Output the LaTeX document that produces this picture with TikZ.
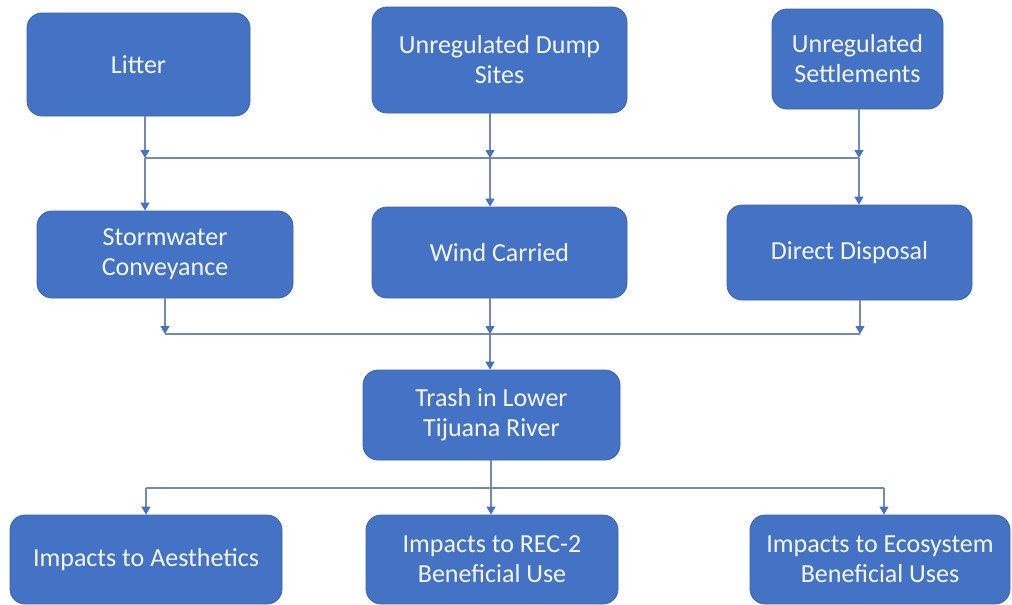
\documentclass[tikz,border=0pt]{standalone}
\usepackage{fontspec}
\setmainfont{Carlito}
\usetikzlibrary{arrows.meta}
\definecolor{boxfill}{HTML}{4472C4}
\definecolor{boxline}{HTML}{3A64AE}
\definecolor{connline}{HTML}{7489B4}
\definecolor{tipcol}{HTML}{4472C4}
\definecolor{txt}{HTML}{F4F6FA}
\begin{document}
\begin{tikzpicture}[x=1pt,y=-1pt,
  blk/.style={draw=boxline,line width=0.8pt,fill=boxfill,rounded corners=15pt,
    text=txt,align=center,inner sep=0pt,
    font=\fontsize{26}{30}\selectfont},
  conn/.style={draw=connline,line width=1.1pt,-{Triangle[length=8pt,width=9pt,color=tipcol]}},
  plain/.style={draw=connline,line width=1.1pt}]
\useasboundingbox[fill=white] (0,0) rectangle (1012,605);
% top row
\node[blk,minimum width=223pt,minimum height=103pt] (litter) at (138.5,64.5) {Litter};
\node[blk,minimum width=255pt,minimum height=106pt] (dump) at (499.5,60) {Unregulated Dump\\Sites};
\node[blk,minimum width=171pt,minimum height=100pt] (settle) at (857.5,59) {Unregulated\\Settlements};
% middle row
\node[blk,minimum width=256pt,minimum height=87pt] (storm) at (165,254.5) {Stormwater\\Conveyance};
\node[blk,minimum width=255pt,minimum height=91pt] (wind) at (499.5,252.5) {Wind Carried};
\node[blk,minimum width=245pt,minimum height=95pt] (direct) at (849.5,252.5) {Direct Disposal};
% trash
\node[blk,minimum width=257pt,minimum height=90pt] (trash) at (491.5,415) {Trash in Lower\\Tijuana River};
% bottom row
\node[blk,minimum width=272pt,minimum height=89pt] (aes) at (146,559.5) {Impacts to Aesthetics};
\node[blk,minimum width=252pt,minimum height=89pt] (rec) at (492,559.5) {Impacts to REC-2\\Beneficial Use};
\node[blk,minimum width=260pt,minimum height=89pt] (eco) at (880,559.5) {Impacts to Ecosystem\\Beneficial Uses};
% junction coordinates
\coordinate (ja) at (145,158);
\coordinate (jb) at (490,158);
\coordinate (jc) at (859,158);
\coordinate (ka) at (165,334);
\coordinate (kb) at (490,334);
\coordinate (kc) at (860,334);
\coordinate (ma) at (146,488);
\coordinate (mb) at (491,488);
\coordinate (mc) at (884,488);
% first bus
\draw[plain] (ja) -- (jc);
\draw[conn] (litter.south -| ja) -- (ja);
\draw[conn] (dump.south -| jb) -- (jb);
\draw[conn] (settle.south -| jc) -- (jc);
\draw[conn] (ja) -- (storm.north -| ja);
\draw[conn] (jb) -- (wind.north -| jb);
\draw[conn] (jc) -- (direct.north -| jc);
% second bus
\draw[plain] (ka) -- (kc);
\draw[conn] (storm.south -| ka) -- (ka);
\draw[conn] (wind.south -| kb) -- (kb);
\draw[conn] (direct.south -| kc) -- (kc);
\draw[conn] (kb) -- (trash.north -| kb);
% third bus
\draw[plain] (trash.south -| mb) -- (mb);
\draw[plain] (ma) -- (mc);
\draw[conn] (ma) -- (aes.north -| ma);
\draw[conn] (mb) -- (rec.north -| mb);
\draw[conn] (mc) -- (eco.north -| mc);
\end{tikzpicture}
\end{document}
